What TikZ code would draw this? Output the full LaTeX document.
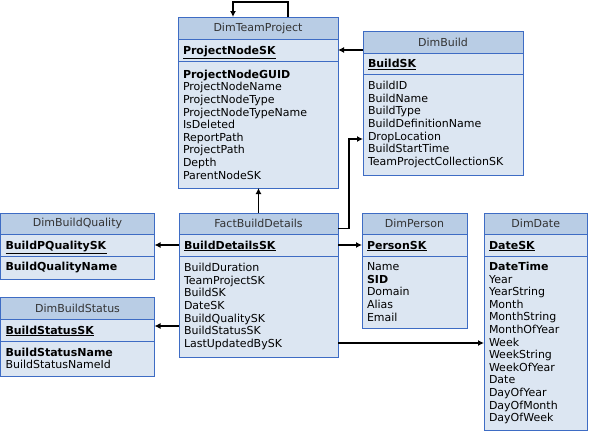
\documentclass[tikz,border=0pt]{standalone}
\usepackage{fontspec}
\setmainfont{DejaVu Sans}
\usetikzlibrary{positioning,arrows.meta}
\definecolor{tblline}{RGB}{62,108,196}
\definecolor{headfill}{RGB}{185,205,229}
\definecolor{rowfill}{RGB}{220,230,242}
\begin{document}
\begin{tikzpicture}[x=1pt,y=-1pt,>={Latex[length=6pt,width=6pt]}]
  \tikzstyle{tbl}=[draw=tblline,line width=1pt,inner xsep=5pt,inner ysep=2pt,outer sep=0pt,
    font=\fontsize{11}{12.6}\selectfont,text=black]
  \tikzstyle{head}=[tbl,fill=headfill,align=center,minimum height=22pt,anchor=north west,text=black!80]
  \tikzstyle{keyrow}=[tbl,fill=rowfill,align=left,minimum height=22pt,text height=8pt,text depth=0pt,below=0pt of #1]
  \tikzstyle{body}=[tbl,fill=rowfill,align=left,below=0pt of #1]
  \tikzstyle{link}=[line width=1.3pt,black]
  \useasboundingbox (0,0) rectangle (589,431);
  % DimTeamProject
  \node[head, text width=150pt] (tp) at (178,17) {DimTeamProject};
  \node[keyrow=tp, text width=150pt] (tpkey) {\underline{\textbf{ProjectNodeSK}}};
  \node[body=tpkey, text width=150pt, minimum height=127pt] (tpbody) {\textbf{ProjectNodeGUID}\\ProjectNodeName\\ProjectNodeType\\ProjectNodeTypeName\\IsDeleted\\ReportPath\\ProjectPath\\Depth\\ParentNodeSK};
  % DimBuild
  \node[head, text width=150pt] (bld) at (363,31) {DimBuild};
  \node[keyrow=bld, text width=150pt, minimum height=21pt] (bldkey) {\underline{\textbf{BuildSK}}};
  \node[body=bldkey, text width=150pt, minimum height=101pt] (bldbody) {BuildID\\BuildName\\BuildType\\BuildDefinitionName\\DropLocation\\BuildStartTime\\TeamProjectCollectionSK};
  % FactBuildDetails
  \node[head, text width=149pt, minimum height=21pt] (fact) at (179,213) {FactBuildDetails};
  \node[keyrow=fact, text width=149pt] (factkey) {\underline{\textbf{BuildDetailsSK}}};
  \node[body=factkey, text width=149pt, minimum height=101pt] (factbody) {BuildDuration\\TeamProjectSK\\BuildSK\\DateSK\\BuildQualitySK\\BuildStatusSK\\LastUpdatedBySK};
  % DimBuildQuality
  \node[head, text width=144pt, minimum height=21pt] (qual) at (0.5,213) {DimBuildQuality};
  \node[keyrow=qual, text width=144pt] (qualkey) {\underline{\textbf{BuildPQualitySK}}};
  \node[body=qualkey, text width=144pt, minimum height=23pt] (qualbody) {\textbf{BuildQualityName}};
  % DimBuildStatus
  \node[head, text width=144pt] (stat) at (0.5,297) {DimBuildStatus};
  \node[keyrow=stat, text width=144pt] (statkey) {\underline{\textbf{BuildStatusSK}}};
  \node[body=statkey, text width=144pt, minimum height=35pt] (statbody) {\textbf{BuildStatusName}\\BuildStatusNameId};
  % DimPerson
  \node[head, text width=95pt, minimum height=21pt] (pers) at (362,213) {DimPerson};
  \node[keyrow=pers, text width=95pt] (perskey) {\underline{\textbf{PersonSK}}};
  \node[body=perskey, text width=95pt, minimum height=72pt] (persbody) {Name\\\textbf{SID}\\Domain\\Alias\\Email};
  % DimDate
  \node[head, text width=93.5pt, minimum height=21pt] (date) at (484,213) {DimDate};
  \node[keyrow=date, text width=93.5pt] (datekey) {\underline{\textbf{DateSK}}};
  \node[body=datekey, text width=93.5pt, minimum height=174pt] (datebody) {\textbf{DateTime}\\Year\\YearString\\Month\\MonthString\\MonthOfYear\\Week\\WeekString\\WeekOfYear\\Date\\DayOfYear\\DayOfMonth\\DayOfWeek};
  % connectors
  \draw[link,->] ([xshift=30pt]tp.north) -- ++(0,-15) -| ([xshift=-25pt]tp.north);
  \draw[link,->] (tpkey.east -| bld.west) -- (tpkey.east);
  \draw[link,->] (fact.north) -- (tpbody.south -| fact.north);
  \draw[link,->] ([yshift=-5pt]fact.east) -- ++(11,0) |- ([yshift=-14.5pt]bldbody.west);
  \draw[link,->] (factkey.east) -- (perskey.west);
  \draw[link,->] (factkey.west) -- (qualkey.east);
  \draw[link,->] ([yshift=4pt]statkey.east -| factbody.west) -- ([yshift=4pt]statkey.east);
  \draw[link,->] (datebody.west -| factbody.east) -- (datebody.west);
\end{tikzpicture}
\end{document}
